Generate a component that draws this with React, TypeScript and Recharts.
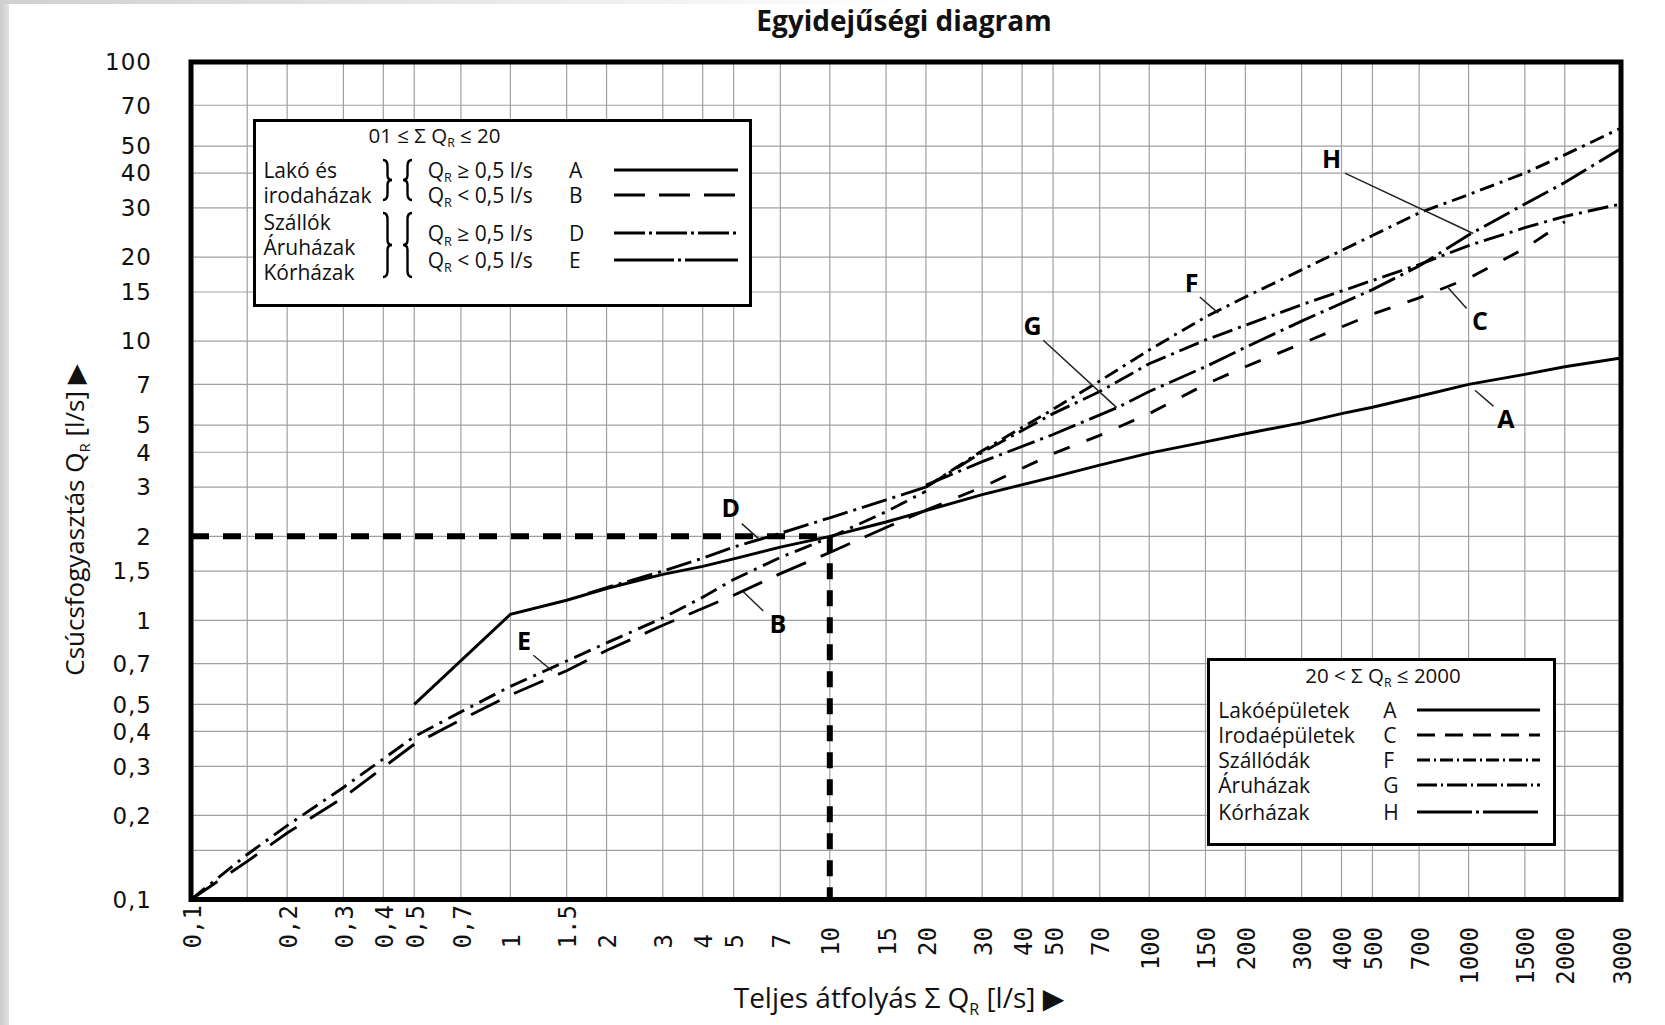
import React from 'react';
import { LineChart, Line, XAxis, YAxis, CartesianGrid, ReferenceLine, ReferenceArea, ReferenceDot } from 'recharts';

const W = 1665;
const H = 1025;
const sans = "'Open Sans', 'Noto Sans', 'DejaVu Sans', sans-serif";
const mono = "'DejaVu Sans Mono', 'Liberation Mono', monospace";

// ---- axis ticks ----
const xTicks = [0.1, 0.15, 0.2, 0.3, 0.4, 0.5, 0.7, 1, 1.5, 2, 3, 4, 5, 7, 10, 15, 20, 30, 40, 50, 70, 100, 150, 200, 300, 400, 500, 700, 1000, 1500, 2000, 3000];
const xTickLabels = ['0,1', '', '0,2', '0,3', '0,4', '0,5', '0,7', '1', '1.5', '2', '3', '4', '5', '7', '10', '15', '20', '30', '40', '50', '70', '100', '150', '200', '300', '400', '500', '700', '1000', '1500', '2000', '3000'];
const yTicks = [0.1, 0.15, 0.2, 0.3, 0.4, 0.5, 0.7, 1, 1.5, 2, 3, 4, 5, 7, 10, 15, 20, 30, 40, 50, 70, 100];
const yTickLabels = ['0,1', '', '0,2', '0,3', '0,4', '0,5', '0,7', '1', '1,5', '2', '3', '4', '5', '7', '10', '15', '20', '30', '40', '50', '70', '100'];

// ---- series (ΣQR -> QR) ----
const aX = [0.5, 1, 1.5, 2, 3, 4, 5, 7, 10, 15, 20, 30, 50, 70, 100, 150, 200, 300, 400, 500, 700, 1000, 1500, 2000, 3000];
const aY = [0.5, 1.05, 1.18, 1.3, 1.46, 1.56, 1.66, 1.83, 2.0, 2.25, 2.47, 2.82, 3.26, 3.6, 3.97, 4.36, 4.66, 5.1, 5.5, 5.8, 6.35, 7.0, 7.6, 8.1, 8.7];
const bX = [0.1, 0.15, 0.2, 0.3, 0.5, 0.7, 1, 1.5, 2, 3, 5, 7, 10, 15, 20];
const bY = [0.1, 0.137, 0.173, 0.232, 0.36, 0.44, 0.54, 0.66, 0.78, 0.96, 1.23, 1.47, 1.75, 2.15, 2.48];
const cX = [20, 30, 50, 70, 100, 150, 200, 300, 500, 700, 1000, 1500, 2000];
const cY = [2.48, 3.0, 3.95, 4.6, 5.5, 7.0, 8.1, 9.8, 12.5, 14.3, 16.8, 21.5, 26.8];
const dX = [1.75, 2, 3, 4, 5, 7, 10, 15, 20];
const dY = [1.25, 1.31, 1.5, 1.67, 1.83, 2.05, 2.33, 2.7, 3.0];
const eX = [0.1, 0.15, 0.2, 0.3, 0.5, 0.7, 1, 1.5, 2, 3, 4, 5, 7, 10, 15, 20];
const eY = [0.1, 0.145, 0.184, 0.252, 0.383, 0.47, 0.58, 0.715, 0.83, 1.02, 1.21, 1.4, 1.68, 1.98, 2.45, 2.9];
const fX = [20, 30, 50, 70, 100, 150, 200, 300, 500, 700, 1000, 1500, 2000, 3000];
const fY = [3.0, 4.05, 5.7, 7.2, 9.3, 12.2, 14.4, 18.0, 23.9, 28.8, 33.5, 40.0, 46.5, 58.0];
const gX = [20, 30, 50, 70, 100, 150, 200, 300, 500, 700, 1000, 1500, 2000, 3000];
const gY = [3.0, 4.0, 5.5, 6.6, 8.3, 10.1, 11.4, 13.5, 16.5, 18.8, 22.0, 25.5, 28.0, 31.0];
const hX = [20, 30, 50, 80, 100, 150, 200, 300, 500, 700, 1000, 1500, 2000, 3000];
const hY = [3.05, 3.7, 4.63, 5.8, 6.6, 8.1, 9.5, 11.8, 15.3, 18.6, 24.0, 31.0, 37.0, 49.0];

// reading example: ΣQR = 10 -> QR = 2
const exampleX = 10;
const exampleY = 2;

// curve letters and their leader lines
const annoLetters = ['A', 'B', 'C', 'D', 'E', 'F', 'G', 'H'];
const annoLabelX = [1309, 6.88, 1086, 4.9, 1.103, 135.8, 43.1, 372.6];
const annoLabelY = [5.25, 0.967, 11.8, 2.53, 0.84, 16.2, 11.3, 44.9];
const leaderX1 = [1047, 5.36, 864, 5.3, 1.18, 144, 46.6, 410];
const leaderY1 = [6.67, 1.265, 15.5, 2.22, 0.75, 14.4, 10.07, 40.0];
const leaderX2 = [1195, 6.19, 986, 6.02, 1.35, 164.5, 79.1, 1034];
const leaderY2 = [5.85, 1.08, 13.1, 1.95, 0.66, 12.6, 5.78, 24.3];

const pts = (xs: number[], ys: number[]) => xs.map((x, i) => ({ x, y: ys[i] }));

const series = [
  { key: 'A', data: pts(aX, aY), dash: undefined as string | undefined },
  { key: 'B', data: pts(bX, bY), dash: '32 16' },
  { key: 'C', data: pts(cX, cY), dash: '17 18' },
  { key: 'D', data: pts(dX, dY), dash: '26 6 3 6' },
  { key: 'E', data: pts(eX, eY), dash: '18 7 3 7' },
  { key: 'F', data: pts(fX, fY), dash: '15 6 3 6' },
  { key: 'G', data: pts(gX, gY), dash: '21 6 3 6' },
  { key: 'H', data: pts(hX, hY), dash: '29 6 3 6' },
];

const XTick = (props: any) => {
  const { x, y, payload } = props;
  const i = xTicks.indexOf(payload.value);
  const label = i >= 0 ? xTickLabels[i] : '';
  if (!label) return null;
  const small = payload.value < 10;
  const ty = small ? y + 49 : y + 27.5;
  return (
    <text transform={`translate(${x + 1},${ty}) rotate(-90)`} textAnchor={small ? 'start' : 'end'} dy="0.36em" fontFamily={mono} fontSize={24} fill="#111">
      {label}
    </text>
  );
};

const YTick = (props: any) => {
  const { x, y, payload } = props;
  const i = yTicks.indexOf(payload.value);
  const label = i >= 0 ? yTickLabels[i] : '';
  if (!label) return null;
  return (
    <text x={x - 39} y={y} dy="0.36em" textAnchor="end" fontFamily="'DejaVu Sans', sans-serif" fontSize={23} letterSpacing={1} fill="#111">
      {label}
    </text>
  );
};

const Sub = ({ children }: { children: React.ReactNode }) => (
  <span style={{ fontSize: '0.6em', position: 'relative', top: '0.35em' }}>{children}</span>
);

const Sample = ({ left, cy, width, dash }: { left: number; cy: number; width: number; dash?: string }) => (
  <svg width={width} height={8} style={{ position: 'absolute', left, top: cy - 4 }}>
    <line x1={0} y1={4} x2={width} y2={4} stroke="#000" strokeWidth={2.8} strokeDasharray={dash} />
  </svg>
);

const rightBrace = (x: number, yt: number, yb: number, d: number) => {
  const m = (yt + yb) / 2;
  const h = d / 2;
  return `M ${x} ${yt} Q ${x + h} ${yt} ${x + h} ${yt + 6} L ${x + h} ${m - 5} Q ${x + h} ${m} ${x + d} ${m} Q ${x + h} ${m} ${x + h} ${m + 5} L ${x + h} ${yb - 6} Q ${x + h} ${yb} ${x} ${yb}`;
};
const leftBrace = (x: number, yt: number, yb: number, d: number) => {
  const m = (yt + yb) / 2;
  const h = d / 2;
  return `M ${x} ${yt} Q ${x - h} ${yt} ${x - h} ${yt + 6} L ${x - h} ${m - 5} Q ${x - h} ${m} ${x - d} ${m} Q ${x - h} ${m} ${x - h} ${m + 5} L ${x - h} ${yb - 6} Q ${x - h} ${yb} ${x} ${yb}`;
};

const legend1Names = ['Lakó és', 'irodaházak', 'Szállók', 'Áruházak', 'Kórházak'];
const legend1NameY = [51, 76, 102.7, 127.7, 152.7];
const legend1Ops = ['≥', '<', '≥', '<'];
const legend1Letters = ['A', 'B', 'D', 'E'];
const legend1RowY = [51, 76, 114.3, 141];
const legend1Dash = [undefined, '31 14', '31 4 3 4', '60 4 3 4'];

const legend2Names = ['Lakóépületek', 'Irodaépületek', 'Szállódák', 'Áruházak', 'Kórházak'];
const legend2Letters = ['A', 'C', 'F', 'G', 'H'];
const legend2RowY = [51.6, 76.6, 101.6, 126.6, 153.3];
const legend2Dash = [undefined, '18 10', '13 4 2 4', '20 4 2 4', '55 4 3 4'];

const B = 3; // legend border
const txt = (left: number, cy: number, size = 21): React.CSSProperties => ({
  position: 'absolute',
  left: left - B,
  top: cy - B - 13,
  lineHeight: '26px',
  fontSize: size,
  whiteSpace: 'nowrap',
  fontFamily: sans,
  color: '#111',
});

const Legend1 = () => (
  <div style={{ position: 'absolute', left: 253, top: 119, width: 499, height: 188, boxSizing: 'border-box', border: `${B}px solid #000`, background: '#fff' }}>
    <div style={{ ...txt(81.5, 16, 20.5), width: 200, textAlign: 'center' }}>
      01 ≤ Σ Q<Sub>R</Sub> ≤ 20
    </div>
    {legend1Names.map((n, i) => (
      <div key={n} style={txt(10.4, legend1NameY[i])}>{n}</div>
    ))}
    <svg width={499} height={188} style={{ position: 'absolute', left: -B, top: -B }}>
      <path d={rightBrace(130, 41, 81, 9)} fill="none" stroke="#000" strokeWidth={2.4} />
      <path d={leftBrace(159, 41, 81, 9)} fill="none" stroke="#000" strokeWidth={2.4} />
      <path d={rightBrace(130, 94, 158, 9)} fill="none" stroke="#000" strokeWidth={2.4} />
      <path d={leftBrace(159, 94, 158, 9)} fill="none" stroke="#000" strokeWidth={2.4} />
    </svg>
    {legend1Letters.map((l, i) => (
      <React.Fragment key={l}>
        <div style={txt(174.7, legend1RowY[i])}>
          Q<Sub>R</Sub> {legend1Ops[i]} 0,5 l/s
        </div>
        <div style={txt(316, legend1RowY[i])}>{l}</div>
        <Sample left={360.6 - B} cy={legend1RowY[i] - B} width={124} dash={legend1Dash[i]} />
      </React.Fragment>
    ))}
  </div>
);

const Legend2 = () => (
  <div style={{ position: 'absolute', left: 1207, top: 658.4, width: 349, height: 188, boxSizing: 'border-box', border: `${B}px solid #000`, background: '#fff' }}>
    <div style={{ ...txt(76, 16.6, 20.5), width: 200, textAlign: 'center' }}>
      20 &lt; Σ Q<Sub>R</Sub> ≤ 2000
    </div>
    {legend2Names.map((n, i) => (
      <React.Fragment key={n}>
        <div style={txt(11.3, legend2RowY[i])}>{n}</div>
        <div style={txt(176.3, legend2RowY[i])}>{legend2Letters[i]}</div>
        <Sample left={209.7 - B} cy={legend2RowY[i] - B} width={123} dash={legend2Dash[i]} />
      </React.Fragment>
    ))}
  </div>
);

export default function App() {
  return (
    <div style={{ position: 'relative', width: W, height: H, background: '#fff', overflow: 'hidden' }}>
      <style>{'body{margin:0;background:#fff;}'}</style>
      <div style={{ position: 'absolute', left: 0, top: 0, width: 9, height: H, background: 'linear-gradient(to right, #cbcbcb, #e2e2e2)' }} />
      <div style={{ position: 'absolute', left: 0, top: 0, width: W, height: 4, background: 'linear-gradient(to right, #d0d0d0, #ffffff 55%)' }} />
      <div style={{ position: 'absolute', left: 0, top: 0 }}>
        <LineChart width={W} height={H} margin={{ top: 62, right: 44, bottom: 0, left: 0 }}>
          <CartesianGrid stroke="#a0a0a0" strokeWidth={1.2} />
          <XAxis
            dataKey="x"
            type="number"
            scale="log"
            domain={[0.1, 3000]}
            allowDataOverflow
            ticks={xTicks}
            interval={0}
            tick={<XTick />}
            tickLine={false}
            axisLine={false}
            tickSize={0}
            tickMargin={0}
            height={125.5}
          />
          <YAxis
            type="number"
            scale="log"
            domain={[0.1, 100]}
            allowDataOverflow
            ticks={yTicks}
            interval={0}
            tick={<YTick />}
            tickLine={false}
            axisLine={false}
            tickSize={0}
            tickMargin={0}
            width={191}
          />
          {series.map((s) => (
            <Line
              key={s.key}
              data={s.data}
              dataKey="y"
              type="linear"
              stroke="#000"
              strokeWidth={2.9}
              strokeDasharray={s.dash}
              dot={false}
              activeDot={false}
              isAnimationActive={false}
            />
          ))}
          <ReferenceLine
            segment={[{ x: 0.1, y: exampleY }, { x: exampleX, y: exampleY }]}
            stroke="#000"
            strokeWidth={6}
            strokeDasharray="18 14"
            ifOverflow="visible"
          />
          <ReferenceLine
            segment={[{ x: exampleX, y: exampleY }, { x: exampleX, y: 0.1 }]}
            stroke="#000"
            strokeWidth={6}
            strokeDasharray="16 11"
            ifOverflow="visible"
          />
          {annoLetters.map((l, i) => (
            <ReferenceLine
              key={'ld' + l}
              segment={[{ x: leaderX1[i], y: leaderY1[i] }, { x: leaderX2[i], y: leaderY2[i] }]}
              stroke="#222"
              strokeWidth={1.5}
              ifOverflow="visible"
            />
          ))}
          {annoLetters.map((l, i) => (
            <ReferenceDot
              key={'lb' + l}
              x={annoLabelX[i]}
              y={annoLabelY[i]}
              r={1}
              fill="none"
              stroke="none"
              ifOverflow="visible"
              label={{ value: l, position: 'center', fill: '#000', fontSize: 25, fontWeight: 700, fontFamily: sans }}
            />
          ))}
          <ReferenceArea x1={0.1} x2={3000} y1={0.1} y2={100} fill="none" stroke="#000" strokeWidth={5} ifOverflow="visible" />
        </LineChart>
      </div>
      <svg width={W} height={H} style={{ position: 'absolute', left: 0, top: 0, pointerEvents: 'none' }}>
        <text x={904} y={31} textAnchor="middle" fontFamily={sans} fontWeight={700} fontSize={28} fill="#111">
          Egyidejűségi diagram
        </text>
        <text x={899} y={1008} textAnchor="middle" fontFamily={sans} fontSize={28} fill="#111">
          Teljes átfolyás Σ Q<tspan fontSize={16} dy={7}>R</tspan>
          <tspan dy={-7}> [l/s] ▶</tspan>
        </text>
        <text transform="translate(84,520) rotate(-90)" textAnchor="middle" fontFamily={sans} fontSize={26} fill="#111">
          Csúcsfogyasztás Q<tspan fontSize={15} dy={6}>R</tspan>
          <tspan dy={-6}> [l/s] ▶</tspan>
        </text>
      </svg>
      <Legend1 />
      <Legend2 />
    </div>
  );
}
